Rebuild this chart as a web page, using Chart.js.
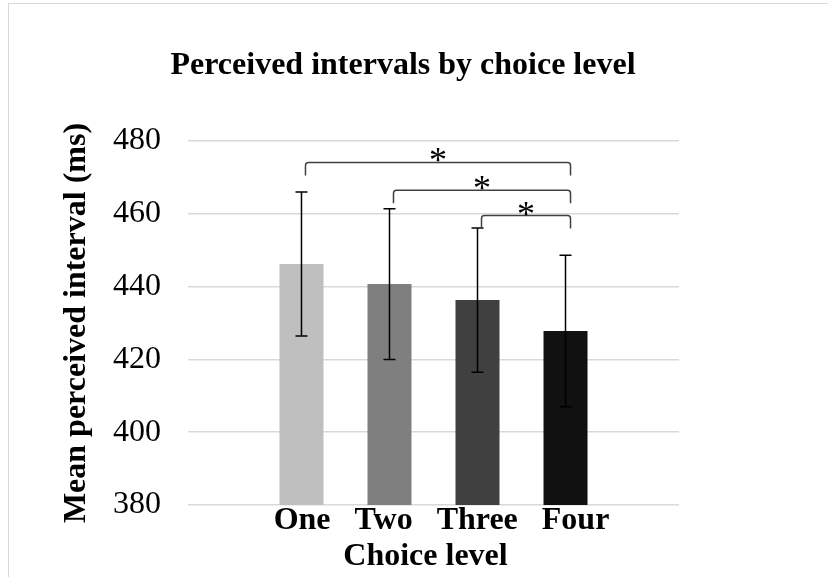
<!DOCTYPE html>
<html>
<head>
<meta charset="utf-8">
<title>Perceived intervals by choice level</title>
<script src="https://cdn.jsdelivr.net/npm/chart.js@4.4.1/dist/chart.umd.min.js"></script>
<style>
  html, body { margin: 0; padding: 0; background: #fff; }
  #wrap { position: relative; width: 828px; height: 577px; overflow: hidden; }
  #frame { position: absolute; left: 8px; top: 3px; width: 900px; height: 700px; border: 1.5px solid #d9d9d9; }
  #chart { position: absolute; left: 0; top: 0; }
</style>
</head>
<body>
<div id="wrap">
  <div id="frame"></div>
  <canvas id="chart" width="828" height="577"></canvas>
</div>
<script>
const categories = ['One', 'Two', 'Three', 'Four']
const means = [446.2, 440.7, 436.3, 427.8]
const errors = [19.8, 20.7, 19.8, 20.8]
const yTicks = [380, 400, 420, 440, 460, 480]
const barColors = ['#bfbfbf', '#7f7f7f', '#404040', '#111111']

// pairwise comparisons marked significant: [from, to, bracket level in ms]
const comparisons = [
  [0, 3, 474.1],
  [1, 3, 466.5],
  [2, 3, 459.5]
]

const titleText = 'Perceived intervals by choice level'
const serif = "'Liberation Serif', 'Times New Roman', serif"

// chart heading, set a little left of the canvas centre
const heading = {
  id: 'heading',
  afterDraw(chart) {
    const ctx = chart.ctx
    ctx.save()
    ctx.font = 'bold 32px ' + serif
    ctx.fillStyle = '#000'
    ctx.textAlign = 'center'
    ctx.textBaseline = 'alphabetic'
    ctx.fillText(titleText, chart.width / 2 - 11, 74)
    ctx.restore()
  }
}

// mean ± error whiskers with caps
const errorBars = {
  id: 'errorBars',
  afterDatasetsDraw(chart) {
    const ctx = chart.ctx
    const y = chart.scales.y
    ctx.save()
    ctx.strokeStyle = '#000'
    ctx.lineWidth = 1.5
    means.forEach((m, i) => {
      const x = chart.getDatasetMeta(i).data[0].x
      const top = y.getPixelForValue(m + errors[i])
      const bottom = y.getPixelForValue(m - errors[i])
      ctx.beginPath()
      ctx.moveTo(x, top)
      ctx.lineTo(x, bottom)
      ctx.moveTo(x - 6, top)
      ctx.lineTo(x + 6, top)
      ctx.moveTo(x - 6, bottom)
      ctx.lineTo(x + 6, bottom)
      ctx.stroke()
    })
    ctx.restore()
  }
}

// significance brackets with an asterisk above each
const brackets = {
  id: 'brackets',
  afterDatasetsDraw(chart) {
    const ctx = chart.ctx
    const y = chart.scales.y
    const drop = 13
    const r = 3
    ctx.save()
    comparisons.forEach(([a, b, level]) => {
      const x1 = chart.getDatasetMeta(a).data[0].x + 4
      const x2 = chart.getDatasetMeta(b).data[0].x + 5
      const yy = y.getPixelForValue(level)
      ctx.strokeStyle = '#404040'
      ctx.lineWidth = 1.5
      ctx.beginPath()
      ctx.moveTo(x1, yy + drop)
      ctx.lineTo(x1, yy + r)
      ctx.quadraticCurveTo(x1, yy, x1 + r, yy)
      ctx.lineTo(x2 - r, yy)
      ctx.quadraticCurveTo(x2, yy, x2, yy + r)
      ctx.lineTo(x2, yy + drop)
      ctx.stroke()

      ctx.fillStyle = '#000'
      ctx.font = '36px ' + serif
      ctx.textAlign = 'center'
      ctx.textBaseline = 'alphabetic'
      ctx.fillText('*', (x1 + x2) / 2, yy + 10)
    })
    ctx.restore()
  }
}

const datasets = categories.map((c, i) => ({
  label: c,
  data: [means[i]],
  backgroundColor: barColors[i],
  barPercentage: 0.5,
  categoryPercentage: 0.717
}))

new Chart(document.getElementById('chart'), {
  type: 'bar',
  data: {
    labels: [categories.join('   ')],
    datasets: datasets
  },
  options: {
    responsive: false,
    animation: false,
    layout: {
      padding: { left: 0, right: 149, top: 141, bottom: 4 }
    },
    plugins: {
      legend: { display: false },
      tooltip: { enabled: false },
      title: { display: false }
    },
    scales: {
      x: {
        grid: { display: false, drawTicks: false },
        border: { display: false },
        ticks: {
          color: '#000',
          padding: 0,
          labelOffset: 8,
          font: { family: serif, size: 32, weight: 'bold', lineHeight: 1 }
        },
        title: {
          display: true,
          // trailing spaces nudge the centred title slightly left
          text: 'Choice level  ',
          color: '#000',
          padding: { top: 0, bottom: 0 },
          font: { family: serif, size: 32, weight: 'bold', lineHeight: 1 }
        },
        afterFit(scale) { scale.height = 68 }
      },
      y: {
        min: 380,
        max: 480,
        afterBuildTicks(scale) { scale.ticks = yTicks.map(v => ({ value: v })) },
        grid: { color: '#d9d9d9', lineWidth: 1.5, drawTicks: false },
        border: { display: false },
        ticks: {
          color: '#000',
          padding: 27,
          font: { family: serif, size: 32, lineHeight: 1 }
        },
        title: {
          display: true,
          text: 'Mean perceived interval (ms)',
          color: '#000',
          padding: { top: 61, bottom: 0 },
          font: { family: serif, size: 32, weight: 'bold', lineHeight: 1 }
        },
        afterFit(scale) { scale.width = 188 }
      }
    }
  },
  plugins: [heading, errorBars, brackets]
})
</script>
</body>
</html>
